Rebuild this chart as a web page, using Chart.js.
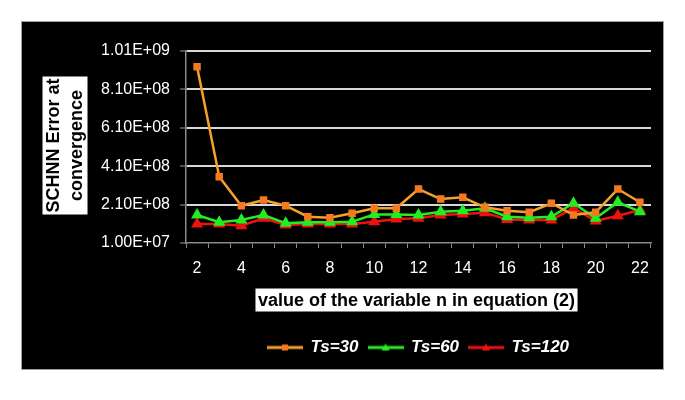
<!DOCTYPE html>
<html lang="en">
<head>
    <meta charset="UTF-8">
    <title>SCHNN Error at convergence</title>
    <script src="https://cdn.jsdelivr.net/npm/chart.js"></script>
    <style>
        body {
            background-color: #ffffff;
            margin: 0;
            padding: 0;
        }
        #box {
            position: absolute;
            left: 21px;
            top: 21px;
            width: 641px;
            height: 347px;
            border: 1px solid #a0a0a0;
            background-color: #000000;
        }
    </style>
</head>
<body>
<div id="box"><canvas id="errChart"></canvas></div>

<script>
// values of n on the x axis
const nValues = ['2', '3', '4', '5', '6', '7', '8', '9', '10', '11', '12',
                 '13', '14', '15', '16', '17', '18', '19', '20', '21', '22'];

const ts30 = [9.28e8, 3.55e8, 2.04e8, 2.34e8, 2.04e8, 1.47e8, 1.42e8, 1.65e8, 1.91e8, 1.91e8, 2.91e8,
              2.39e8, 2.48e8, 1.96e8, 1.78e8, 1.70e8, 2.17e8, 1.56e8, 1.70e8, 2.91e8, 2.22e8];
const ts60 = [1.56e8, 1.18e8, 1.30e8, 1.56e8, 1.13e8, 1.18e8, 1.18e8, 1.21e8, 1.59e8, 1.59e8, 1.56e8,
              1.73e8, 1.78e8, 1.91e8, 1.47e8, 1.42e8, 1.47e8, 2.17e8, 1.39e8, 2.22e8, 1.73e8];
const ts120 = [1.09e8, 1.09e8, 1.00e8, 1.39e8, 1.04e8, 1.09e8, 1.09e8, 1.09e8, 1.21e8, 1.35e8, 1.39e8,
               1.56e8, 1.61e8, 1.68e8, 1.33e8, 1.30e8, 1.30e8, 1.91e8, 1.25e8, 1.52e8, 1.82e8];

const yTicks = [1.00e7, 2.10e8, 4.10e8, 6.10e8, 8.10e8, 1.01e9];
const seriesNames = ['Ts=30', 'Ts=60', 'Ts=120'];

const yTitleLines = ['SCHNN Error at', 'convergence'];
const xTitle = 'value of the variable n in equation (2)';

const FONT = '"Liberation Sans", Arial, sans-serif';

// 1.00E+07 style labels
function sci(v) {
    const parts = v.toExponential(2).split('e');
    const e = parseInt(parts[1], 10);
    return parts[0] + 'E' + (e < 0 ? '-' : '+') + String(Math.abs(e)).padStart(2, '0');
}

// little line+marker pictures for the legend
function legendIcon(lineColor, markColor, shape) {
    const c = document.createElement('canvas');
    c.width = 36;
    c.height = 10;
    const g = c.getContext('2d');
    g.strokeStyle = lineColor;
    g.lineWidth = 3;
    g.beginPath();
    g.moveTo(0, 5);
    g.lineTo(36, 5);
    g.stroke();
    g.fillStyle = markColor;
    if (shape === 'rect') {
        g.fillRect(15, 2, 6, 6);
    } else {
        g.beginPath();
        g.moveTo(18, 1);
        g.lineTo(22, 8);
        g.lineTo(14, 8);
        g.closePath();
        g.fill();
    }
    return c;
}

const icons = [
    legendIcon('#f5a02a', '#f47920', 'rect'),
    legendIcon('#22ee22', '#22ee22', 'tri'),
    legendIcon('#ee1111', '#ee1111', 'tri')
];

// axis titles sit in white boxes
const titleBoxes = {
    id: 'titleBoxes',
    afterDraw(chart) {
        const ctx = chart.ctx;
        const area = chart.chartArea;
        ctx.save();
        ctx.font = 'bold 18px ' + FONT;
        ctx.textAlign = 'center';
        ctx.textBaseline = 'middle';

        // x title
        const xw = ctx.measureText(xTitle).width + 5;
        const xcx = (area.left + area.right) / 2 - 2;
        const xcy = area.bottom + 57;
        ctx.fillStyle = '#ffffff';
        ctx.fillRect(xcx - xw / 2, xcy - 11.5, xw, 23);
        ctx.fillStyle = '#000000';
        ctx.fillText(xTitle, xcx, xcy + 1);

        // y title, rotated
        const ycx = area.left - 121;
        const ycy = (area.top + area.bottom) / 2 - 1.5;
        ctx.translate(ycx, ycy);
        ctx.rotate(-Math.PI / 2);
        const yw = Math.max(...yTitleLines.map(t => ctx.measureText(t).width)) + 4;
        ctx.fillStyle = '#ffffff';
        ctx.fillRect(-yw / 2, -22.5, yw, 45);
        ctx.fillStyle = '#000000';
        ctx.fillText(yTitleLines[0], 0, -10.5);
        ctx.fillText(yTitleLines[1], 0, 12);
        ctx.restore();
    }
};

new Chart(document.getElementById('errChart'), {
    type: 'line',
    data: {
        labels: nValues,
        datasets: [
            {
                label: seriesNames[0],
                data: ts30,
                borderColor: '#f5a02a',
                backgroundColor: '#f47920',
                pointBackgroundColor: '#f47920',
                pointBorderColor: '#f47920',
                pointStyle: 'rect',
                pointRadius: 3.5,
                borderWidth: 2.5
            },
            {
                label: seriesNames[1],
                data: ts60,
                borderColor: '#22ee22',
                backgroundColor: '#22ee22',
                pointStyle: 'triangle',
                pointRadius: 4.5,
                borderWidth: 2.5
            },
            {
                label: seriesNames[2],
                data: ts120,
                borderColor: '#ee1111',
                backgroundColor: '#ee1111',
                pointStyle: 'triangle',
                pointRadius: 4.5,
                borderWidth: 2.5
            }
        ]
    },
    options: {
        responsive: true,
        maintainAspectRatio: false,
        animation: false,
        layout: {
            padding: { top: 29, right: 12, bottom: 3, left: 0 }
        },
        scales: {
            x: {
                offset: true,
                afterFit: function(axis) { axis.height = 86; },
                grid: {
                    display: true,
                    offset: true,
                    drawOnChartArea: false,
                    drawTicks: true,
                    tickLength: 5,
                    color: '#8a8a8a'
                },
                border: { display: true, color: '#8a8a8a', width: 1.5 },
                ticks: {
                    color: '#ffffff',
                    font: { family: FONT, size: 16 },
                    padding: 11,
                    maxRotation: 0,
                    autoSkip: false,
                    callback: function(value, index) {
                        return index % 2 === 0 ? this.getLabelForValue(value) : '';
                    }
                }
            },
            y: {
                min: yTicks[0],
                max: yTicks[yTicks.length - 1],
                afterFit: function(axis) { axis.width = 164; },
                afterBuildTicks: function(axis) {
                    axis.ticks = yTicks.map(v => ({ value: v }));
                },
                grid: {
                    color: ctx => ctx.index === 0 ? 'rgba(0,0,0,0)' : '#d8d8d8',
                    lineWidth: 2,
                    drawTicks: true,
                    tickLength: 6,
                    tickColor: '#9a9a9a',
                    tickWidth: 1
                },
                border: { display: true, color: '#8a8a8a', width: 1.5 },
                ticks: {
                    color: '#ffffff',
                    font: { family: FONT, size: 16 },
                    padding: 10,
                    callback: v => sci(v)
                }
            }
        },
        plugins: {
            legend: {
                position: 'bottom',
                fullSize: false,
                labels: {
                    usePointStyle: true,
                    pointStyleWidth: 34,
                    color: '#ffffff',
                    padding: 10,
                    font: { family: FONT, size: 17, weight: 'bold', style: 'italic' },
                    generateLabels: function(chart) {
                        const items = Chart.defaults.plugins.legend.labels.generateLabels(chart);
                        items.forEach(it => { it.pointStyle = icons[it.datasetIndex]; });
                        return items;
                    }
                }
            },
            tooltip: { enabled: false }
        }
    },
    plugins: [titleBoxes]
});
</script>
</body>
</html>
